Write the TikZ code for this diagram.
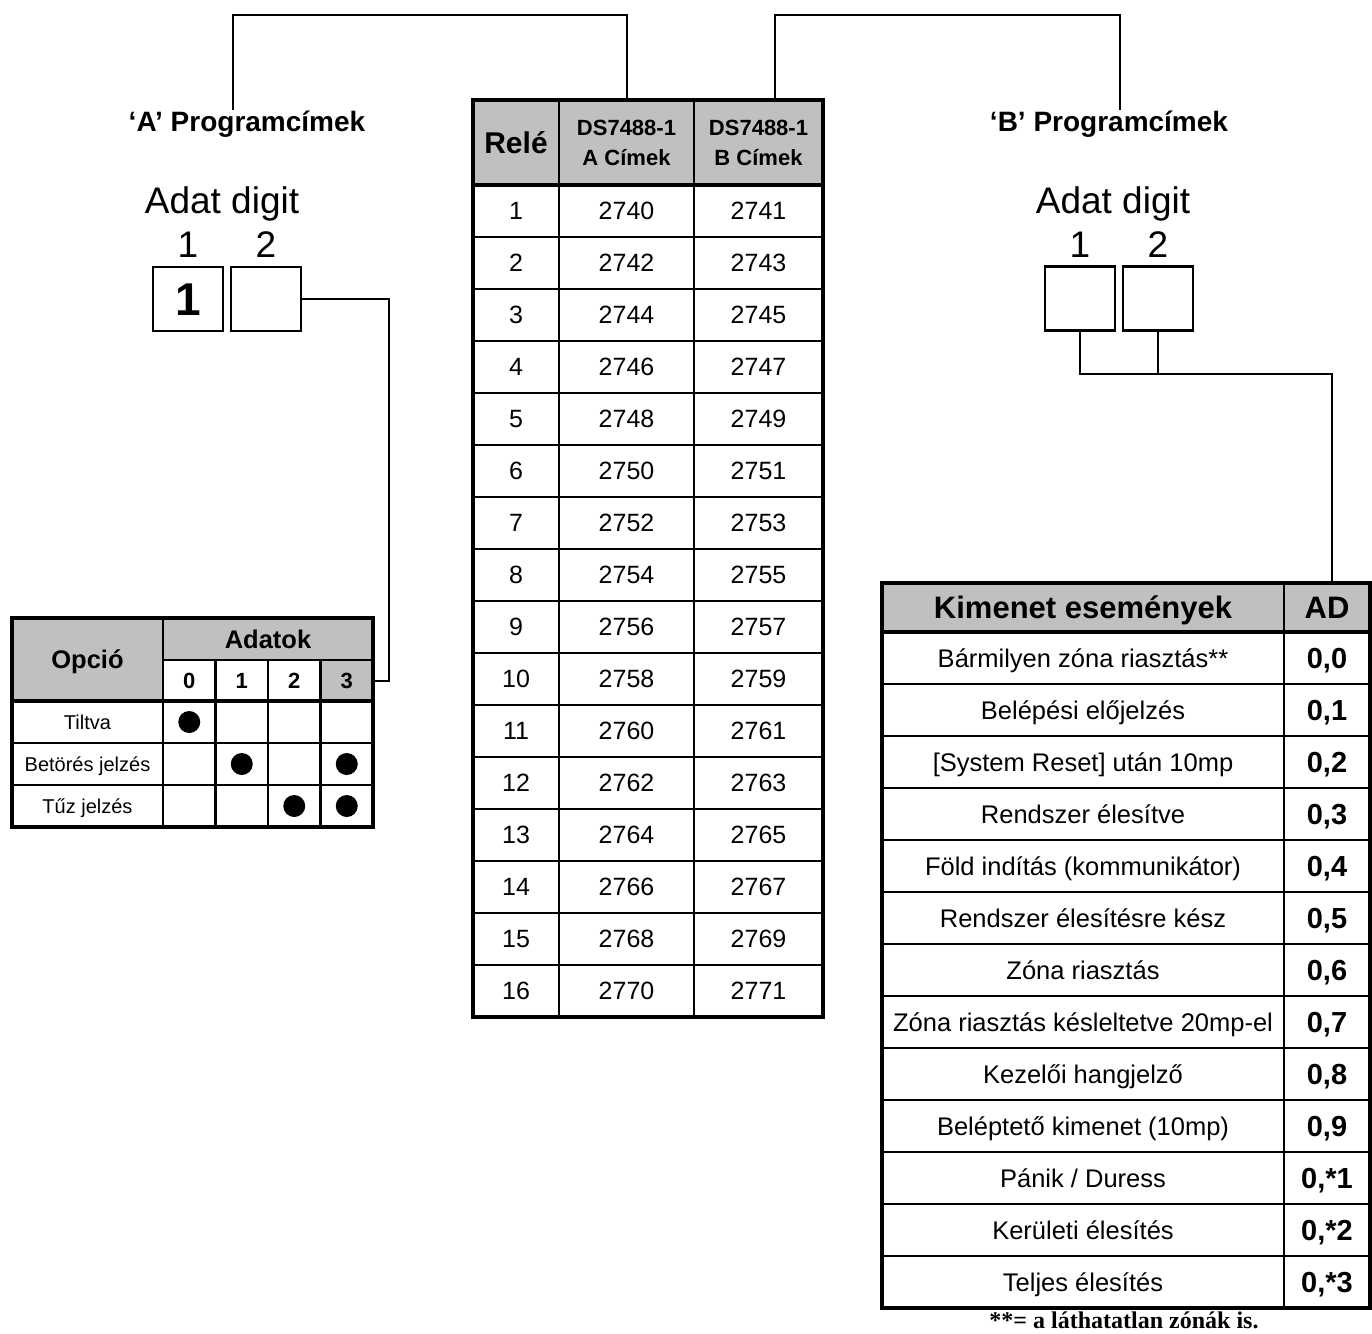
\documentclass[tikz,border=0pt]{standalone}
\usepackage{fontspec}
\setmainfont{Liberation Sans}
\newfontfamily\noteserif{Liberation Serif}
\usepackage{tikz}
\usetikzlibrary{positioning,calc}
\definecolor{hdrgray}{HTML}{C0C0C0}

\begin{document}
\begin{tikzpicture}[x=1pt,y=-1pt,
		frame/.style={draw,line width=2.5pt,inner sep=0pt,outer sep=0pt,align=center},
		cell/.style={frame,t25},
		gcell/.style={cell,fill=hdrgray},
		hcell/.style={frame,fill=hdrgray},
		t20/.style={font=\fontsize{20}{24}\selectfont,text height=14.3pt,text depth=0pt},
		t25/.style={font=\fontsize{25}{30}\selectfont,text height=17.9pt,text depth=0pt},
		t26/.style={font=\fontsize{25.5}{30}\selectfont,text height=18.3pt,text depth=0pt},
		b22/.style={font=\bfseries\fontsize{22}{26}\selectfont,text height=15.8pt,text depth=0pt},
		b25/.style={font=\bfseries\fontsize{25.5}{28}\selectfont,text height=18.3pt,text depth=0pt},
		b29/.style={font=\bfseries\fontsize{29}{30}\selectfont,text height=20.8pt,text depth=0pt},
		b30/.style={font=\bfseries\fontsize{30}{30}\selectfont,text height=21.5pt,text depth=0pt},
		b31/.style={font=\bfseries\fontsize{31}{31}\selectfont,text height=22.2pt,text depth=0pt},
		rim/.style={draw,line width=4.5pt},
		conn/.style={draw,line width=2pt},
		dbox/.style={draw,line width=2.5pt,inner sep=0pt,outer sep=0pt,
				minimum width=70pt,minimum height=64pt,font=\bfseries\fontsize{46}{46}\selectfont,
				text height=33pt,text depth=0pt},
		ttl/.style={inner sep=0pt,anchor=base,font=\bfseries\fontsize{28}{28}\selectfont},
		lbl/.style={inner sep=0pt,font=\fontsize{37}{37}\selectfont},
		dot/.style={circle,fill,inner sep=0pt,minimum size=22pt}
		]
		\useasboundingbox (0,0) rectangle (1372,1333);

		% titles and data digit boxes
		\node[ttl] (progA) at (247,131) {‘A’ Programcímek};
		\node[ttl] (progB) at (1109,131) {‘B’ Programcímek};
		\node[lbl,anchor=base] (adatA) at (222,213) {Adat digit};
		\node[lbl,anchor=base] (adatB) at (1113,213) {Adat digit};
		\node[dbox] (a1) at (188,299) {1};
		\node[dbox,right=8pt of a1] (a2) {};
		\node[dbox] (b1) at (1080,298.5) {};
		\node[dbox,right=8pt of b1] (b2) {};
		\node[lbl,above=9pt of a1] (a1n) {1};
		\node[lbl,above=9pt of a2] (a2n) {2};
		\node[lbl,above=9pt of b1] (b1n) {1};
		\node[lbl,above=9pt of b2] (b2n) {2};

		% option table
		\node[gcell,b25,minimum width=151pt,minimum height=83pt] (opc) at (87.5,659.5) {Opció};
		\node[gcell,b25,minimum width=210pt,minimum height=42pt] (adk) at (268,639) {Adatok};
		\foreach \d/\f in {0/white,1/white,2/white,3/hdrgray}
		\node[cell,b22,fill=\f,minimum width=52.5pt,minimum height=41pt] (d\d) at ({189.25+52.5*\d},680.5) {\d};
		\foreach \r/\t in {1/Tiltva,2/Betörés jelzés,3/Tűz jelzés} {
				\node[cell,t20,minimum width=151pt,minimum height=42pt] (opt\r) at (87.5,{680+42*\r}) {\t};
				\foreach \d in {0,...,3}
				\node[cell,minimum width=52.5pt,minimum height=42pt] (o\r-\d) at ({189.25+52.5*\d},{680+42*\r}) {};
			}
		\foreach \r/\d in {1/0,2/1,2/3,3/2,3/3}
		\node[dot] (p\r-\d) at (o\r-\d) {};
		\draw[rim] (opc.north west) rectangle (o3-3.south east);
		\draw[rim] (opc.south west) -- (d3.south east);

		% relay address table
		\node[gcell,b30,minimum width=86pt,minimum height=85pt] (rel-h) at (516,142.5) {Relé};
		\node[hcell,minimum width=135pt,minimum height=85pt,font=\bfseries\fontsize{22}{30}\selectfont] (ca-h) at (626.5,142.5) {DS7488-1\\A Címek};
		\node[hcell,minimum width=129pt,minimum height=85pt,font=\bfseries\fontsize{22}{30}\selectfont] (cb-h) at (758.5,142.5) {DS7488-1\\B Címek};
		\foreach \r in {1,...,16} {
				\pgfmathtruncatemacro{\adra}{2738+2*\r}
				\pgfmathtruncatemacro{\adrb}{2739+2*\r}
				\node[cell,minimum width=86pt,minimum height=52pt] (rel-\r) at (516,{159+52*\r}) {\r};
				\node[cell,minimum width=135pt,minimum height=52pt] (ca-\r) at (626.5,{159+52*\r}) {\adra};
				\node[cell,minimum width=129pt,minimum height=52pt] (cb-\r) at (758.5,{159+52*\r}) {\adrb};
			}
		\draw[rim] (rel-h.north west) rectangle (cb-16.south east);
		\draw[rim] (rel-h.south west) -- (cb-h.south east);

		% output events table
		\node[gcell,b31,minimum width=402pt,minimum height=49pt] (kim-h) at (1083,607.5) {Kimenet események};
		\node[gcell,b31,minimum width=86pt,minimum height=49pt] (ad-h) at (1327,607.5) {AD};
		\foreach \t/\v [count=\r] in {Bármilyen zóna riasztás**/0,Belépési előjelzés/1,{[System Reset] után 10mp}/2,
				Rendszer élesítve/3,Föld indítás (kommunikátor)/4,Rendszer élesítésre kész/5,Zóna riasztás/6,
				Zóna riasztás késleltetve 20mp-el/7,Kezelői hangjelző/8,Beléptető kimenet (10mp)/9,
				{Pánik / Duress}/*1,Kerületi élesítés/*2,Teljes élesítés/*3} {
				\node[cell,t26,minimum width=402pt,minimum height=52pt] (ev\r) at (1083,{606+52*\r}) {\t};
				\node[cell,b29,minimum width=86pt,minimum height=52pt] (ad\r) at (1327,{606+52*\r}) {0,\v};
			}
		\draw[rim] (kim-h.north west) rectangle (ad13.south east);
		\draw[rim] (kim-h.south west) -- (ad-h.south east);
		\node[inner sep=0pt,anchor=base,font=\noteserif\bfseries\fontsize{24}{24}\selectfont] (note) at (1124,1328) {**= a láthatatlan zónák is.};

		% connectors
		\coordinate (aTop) at (233,15);
		\coordinate (bTop) at (1120,15);
		\coordinate (bJoin) at (1332,374);
		\draw[conn] (aTop |- progA.north) -- (aTop) -| (ca-h.north);
		\draw[conn] ([xshift=16pt]cb-h.north) |- (bTop) -- (bTop |- progB.north);
		\draw[conn] (a2.east) -- ++(88,0) |- (d3.east);
		\draw[conn] (b1.south) |- (bJoin) -- (bJoin |- ad-h.north);
		\draw[conn] (b2.south) -- (b2.south |- bJoin);
	\end{tikzpicture}
\end{document}
